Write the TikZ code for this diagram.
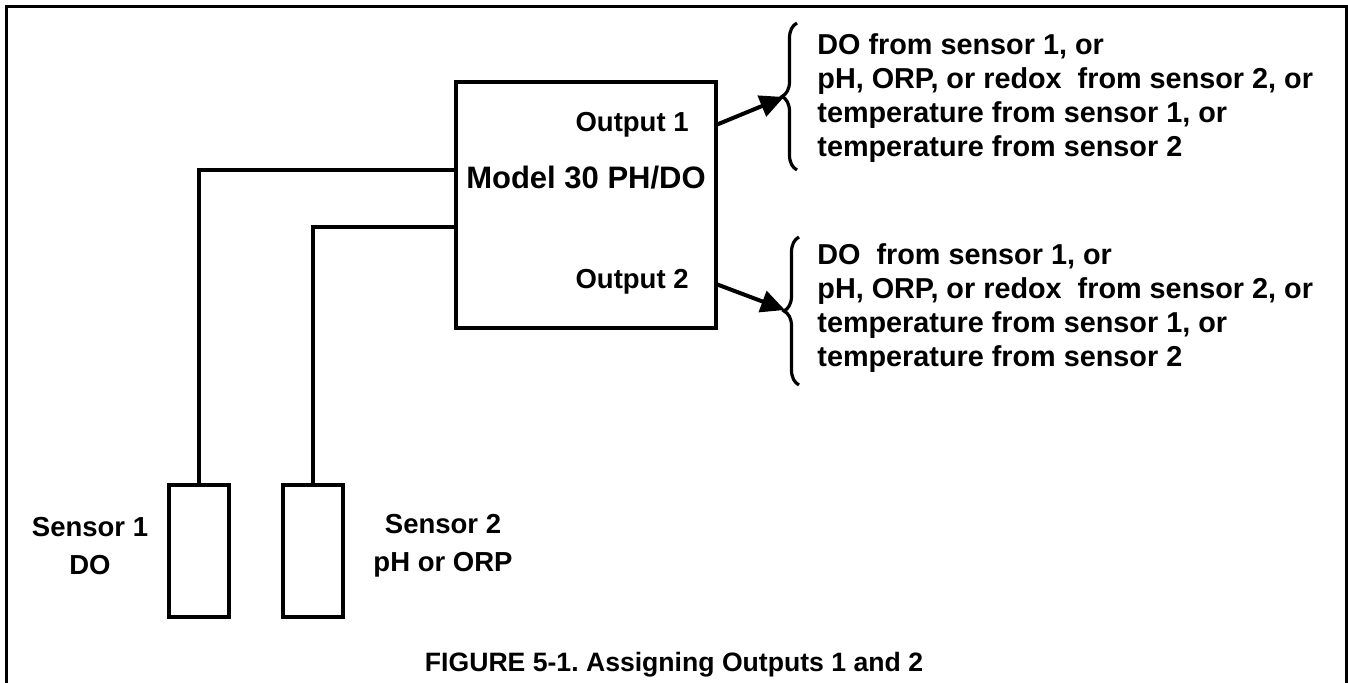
\documentclass[tikz,border=0pt]{standalone}
\usepackage{fontspec}
\setmainfont{Liberation Sans}
\usetikzlibrary{arrows.meta,positioning,decorations.pathreplacing}
\tikzset{
  >={Triangle[length=12pt,width=11pt]},
  unit/.style={draw,line width=2pt,minimum width=130pt,minimum height=123pt,inner sep=0pt},
  probe/.style={draw,line width=2pt,minimum width=30pt,minimum height=66pt,inner sep=0pt},
  lbl/.style={font=\fontsize{13.75}{19}\selectfont\bfseries,align=center,inner sep=0pt},
  choice/.style={font=\fontsize{14.4}{17}\selectfont\bfseries,align=left,inner sep=0pt},
  wire/.style={line width=2pt},
  feed/.style={->,line width=2pt},
  curly/.style={line width=1.6pt,decorate,decoration={brace,amplitude=7.5pt}},
}
\frenchspacing
\begin{document}
\begin{tikzpicture}[x=0.5pt,y=-0.5pt]
  \useasboundingbox (0,0) rectangle (1348,683);
  % open frame
  \draw[line width=1.5pt] (6,690) -- (6,7) -- (1346,7) -- (1346,690);
  % controller
  \node[unit] (model) at (586,205) {};
  \node[lbl,font=\fontsize{15.5}{19}\selectfont\bfseries] (title) at (586,178) {Model 30 PH/DO};
  \node[lbl,anchor=east] (o1) at (689,125) {Output 1};
  \node[lbl,anchor=east] (o2) at (689,282) {Output 2};
  % sensors
  \node[probe] (s1) at (199,551) {};
  \node[probe] (s2) at (313,551) {};
  \node[lbl] (s1txt) at (90,546) {Sensor 1\\DO};
  \node[lbl] (s2txt) at (443,546) {Sensor 2\\pH or ORP};
  \coordinate (in1) at (456,170);
  \coordinate (in2) at (456,227);
  \draw[wire] (s1.north) |- (in1);
  \draw[wire] (s2.north) |- (in2);
  % outputs
  \coordinate (out1) at (716,125);
  \coordinate (out2) at (716,284);
  \coordinate (tip1) at (784,97);
  \coordinate (tip2) at (785,310);
  \draw[feed] (out1) -- (tip1);
  \draw[feed] (out2) -- (tip2);
  \draw[curly] (797,170) -- (797,23);
  \draw[curly] (799,385) -- (799,237);
  \node[choice,anchor=west] (opt1) at (817,98) {DO from sensor 1, or\\pH, ORP, or redox\ \ from sensor 2, or\\temperature from sensor 1, or\\temperature from sensor 2};
  \node[choice,anchor=west] (opt2) at (817,308) {DO\ \ from sensor 1, or\\pH, ORP, or redox\ \ from sensor 2, or\\temperature from sensor 1, or\\temperature from sensor 2};
  % caption
  \node[lbl,font=\fontsize{13.3}{16}\selectfont\bfseries] (cap) at (674,665) {FIGURE 5-1. Assigning Outputs 1 and 2};
\end{tikzpicture}
\end{document}
